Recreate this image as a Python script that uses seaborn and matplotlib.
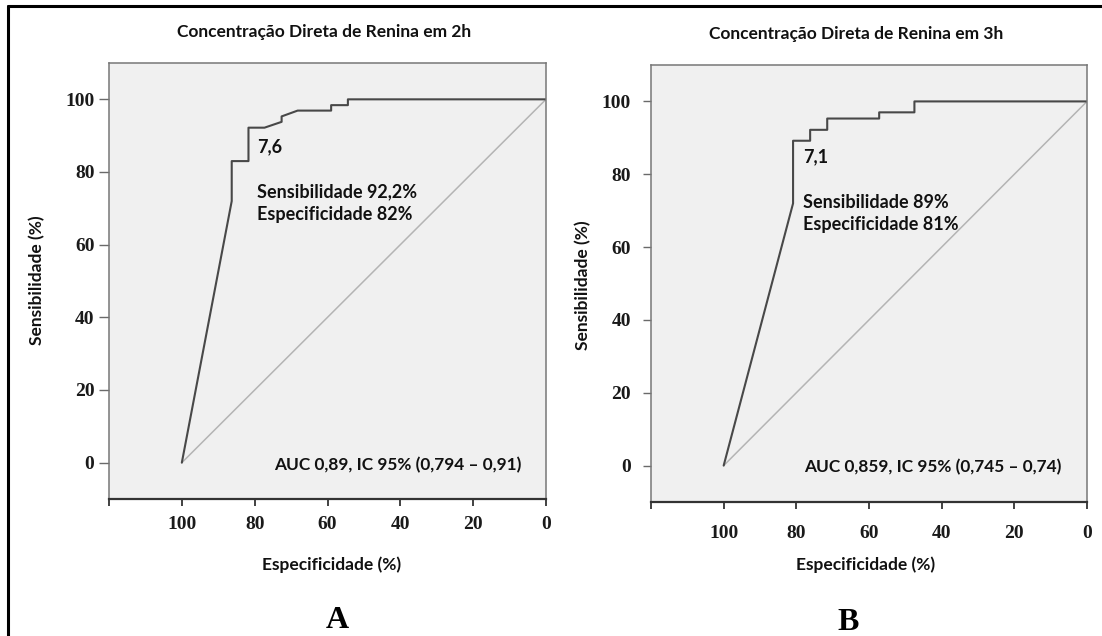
import matplotlib
matplotlib.use("Agg")
import matplotlib.pyplot as plt
import seaborn as sns
import pandas as pd
from matplotlib.lines import Line2D

# ---- data ----
a_spec = [100, 86.3, 86.3, 81.7, 81.7, 77.3, 72.6, 72.6, 68.2, 59.0, 59.0, 54.4, 54.4, 0]
a_sens = [0, 72, 83, 83, 92.2, 92.2, 93.8, 95.3, 96.9, 96.9, 98.4, 98.4, 100, 100]
b_spec = [100, 80.9, 80.9, 76.2, 76.2, 71.5, 71.5, 57.2, 57.2, 47.5, 47.5, 0]
b_sens = [0, 72, 89.2, 89.2, 92.2, 92.2, 95.3, 95.3, 97.0, 97.0, 100, 100]
ref_spec = [100, 0]
ref_sens = [0, 100]
x_ticks = [120, 100, 80, 60, 40, 20, 0]
x_ticklabels = ["", "100", "80", "60", "40", "20", "0"]
y_ticks = [0, 20, 40, 60, 80, 100]
y_ticklabels = ["0", "20", "40", "60", "80", "100"]
titles = ["Concentração Direta de Renina em 2h", "Concentração Direta de Renina em 3h"]
cutoffs = ["7,6", "7,1"]
sens_txt = ["Sensibilidade 92,2%", "Sensibilidade 89%"]
spec_txt = ["Especificidade 82%", "Especificidade 81%"]
auc_txt = ["AUC 0,89, IC 95% (0,794 – 0,91)", "AUC 0,859, IC 95% (0,745 – 0,74)"]
panel_letters = ["A", "B"]

sns.set_theme(style="white")
plt.rcParams['font.family'] = ['Lato', 'DejaVu Sans']

W, H = 1102, 636
fig = plt.figure(figsize=(W / 100, H / 100), dpi=100)
fig.patch.set_facecolor("white")

def px_axes(x0, y0, x1, y1):
    return fig.add_axes([x0 / W, 1 - y1 / H, (x1 - x0) / W, (y1 - y0) / H])

axA = px_axes(109, 63, 546, 499)
axB = px_axes(651, 65, 1087, 502)

curves = [(a_spec, a_sens), (b_spec, b_sens)]
lab_font = dict(family=['Lato', 'DejaVu Sans'], weight='bold', size=12.5)
txt_font = dict(family=['Lato', 'DejaVu Sans'], weight='bold', size=13)
auc_font = dict(family=['Lato', 'DejaVu Sans'], weight='bold', size=12.4)
tick_font = dict(family='Liberation Serif', weight='bold', size=14)

cfg = [
    dict(title_x=0.492, xl=(0.510, -0.151), yl=(-0.164, 0.503), ypad=3, ylen=7.5, xpad=7.5,
         cut=(79.3, 86.9), sens=(79.3, 74.5), spec=(79.3, 68.4), auc=(6.6, -0.8)),
    dict(title_x=0.470, xl=(0.491, -0.144), yl=(-0.156, 0.497), ypad=8.5, ylen=6, xpad=11.5,
         cut=(78.2, 84.9), sens=(78.2, 72.2), spec=(78.2, 66.2), auc=(7.0, -0.5)),
]

for i, ax in enumerate([axA, axB]):
    c = cfg[i]
    ax.set_facecolor("#f0f0f0")
    df = pd.DataFrame({"spec": curves[i][0], "sens": curves[i][1]})
    dref = pd.DataFrame({"spec": ref_spec, "sens": ref_sens})
    sns.lineplot(data=dref, x="spec", y="sens", sort=False, estimator=None,
                 color="#b4b4b4", linewidth=1.1, ax=ax)
    sns.lineplot(data=df, x="spec", y="sens", sort=False, estimator=None,
                 color="#484848", linewidth=1.5, ax=ax)
    ax.set_xlim(120, 0)
    ax.set_ylim(-10, 110)
    ax.set_xticks(x_ticks)
    ax.set_xticklabels(x_ticklabels, fontdict=tick_font, color="#1a1a1a")
    ax.set_yticks(y_ticks)
    ax.set_yticklabels(y_ticklabels, fontdict=tick_font, color="#1a1a1a")
    ax.tick_params(axis="y", direction="out", length=c["ylen"], width=1, color="#6a6a6a",
                   pad=c["ypad"], left=True)
    ax.tick_params(axis="x", direction="out", length=5, width=1.3, color="#333333",
                   pad=c["xpad"], bottom=True)
    for s in ["top", "left", "right"]:
        ax.spines[s].set_color("#777777")
        ax.spines[s].set_linewidth(1.1)
    ax.spines["bottom"].set_color("#333333")
    ax.spines["bottom"].set_linewidth(1.6)

    ax.set_title(titles[i], x=c["title_x"], y=1.053, va="center", fontdict=lab_font, color="#111111")
    ax.set_xlabel("Especificidade (%)", fontdict=lab_font, color="#111111")
    ax.xaxis.set_label_coords(*c["xl"])
    ax.xaxis.label.set_va("center")
    ax.set_ylabel("Sensibilidade (%)", fontdict=lab_font, color="#111111")
    ax.yaxis.set_label_coords(*c["yl"])
    ax.yaxis.label.set_va("center")

    ax.text(*c["cut"], cutoffs[i], ha="left", va="center", color="#111111", **txt_font)
    ax.text(*c["sens"], sens_txt[i], ha="left", va="center", color="#111111", **txt_font)
    ax.text(*c["spec"], spec_txt[i], ha="left", va="center", color="#111111", **txt_font)
    ax.text(*c["auc"], auc_txt[i], ha="right", va="center", color="#111111", **auc_font)

fig.text(337 / W, 1 - 621 / H, panel_letters[0], ha="center", va="center",
         family="Liberation Serif", weight="bold", size=23, color="black")
fig.text(848 / W, 1 - 622 / H, panel_letters[1], ha="center", va="center",
         family="Liberation Serif", weight="bold", size=23, color="black")

# outer frame (top and left edges visible)
fig.add_artist(Line2D([8 / W, 8 / W], [0, 1 - 6 / H], transform=fig.transFigure, color="black", lw=2.2))
fig.add_artist(Line2D([8 / W, 1], [1 - 6 / H, 1 - 6 / H], transform=fig.transFigure, color="black", lw=2.2))

fig.savefig("out.png", dpi=100, facecolor="white")
